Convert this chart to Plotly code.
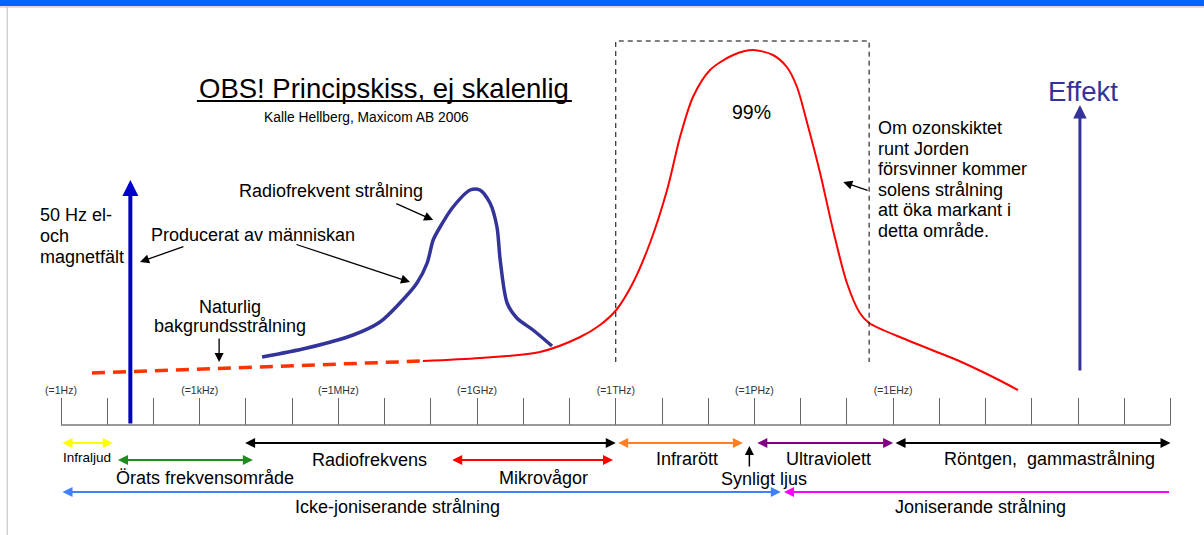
import plotly.graph_objects as go

FONT = "Liberation Sans, Arial, sans-serif"

# ---- axis: log10(frequency / Hz) decades ----
decades = list(range(25))
decade_labels = {0: "(=1Hz)", 3: "(=1kHz)", 6: "(=1MHz)", 9: "(=1GHz)",
                 12: "(=1THz)", 15: "(=1PHz)", 18: "(=1EHz)"}
tick_text = [decade_labels.get(d, "") for d in decades]

# ---- curves (x = log10 Hz, y = relative power, sketch units) ----
natural_x = [0.67, 3.0, 5.2, 7.83]
natural_y = [52, 56, 59, 64]

solar_x = [7.83, 9.06, 10.36, 11.23, 11.66, 12.01, 12.37, 12.74, 13.11, 13.39, 13.67,
           14.04, 14.54, 14.97, 15.40, 15.70, 15.92, 16.14, 16.42, 16.70, 17.00,
           17.28, 17.48, 18.30, 19.38, 20.16, 20.70]
solar_y = [64, 67, 73, 88, 100, 115, 142, 182, 235, 288, 328,
           355, 370, 375, 370, 358, 338, 302, 252, 195, 142,
           112, 102, 85, 65, 48, 35]

rf_x = [4.35, 5.32, 6.32, 6.90, 7.33, 7.70, 7.92, 8.05, 8.20, 8.48, 8.85, 9.06,
        9.28, 9.43, 9.50, 9.65, 9.86, 10.21, 10.62]
rf_y = [68, 77, 90, 103, 122, 142, 162, 185, 198, 218, 235, 235,
        222, 198, 165, 122, 107, 95, 79]

# dashed box around the solar peak
box_x = [12.0, 12.0, 17.48, 17.48]
box_y = [63, 384, 384, 63]

# ---- band arrows: (label, start, end, row, color, both ends) ----
bands = [
    ("Infraljud", 0.0, 1.12, -18, "#FFFF00", True),
    ("Radiofrekvens", 3.95, 12.0, -18, "#000000", True),
    ("Infrarött", 12.02, 14.75, -18, "#FF7F27", True),
    ("Ultraviolett", 15.03, 18.0, -18, "#800080", True),
    ("Röntgen", 18.02, 24.0, -18, "#000000", True),
    ("Örat", 1.2, 4.15, -35, "#1E8C1E", True),
    ("Mikrovågor", 8.43, 11.94, -35, "#FF0000", True),
    ("Icke-joniserande", 0.0, 15.57, -67, "#4080FF", True),
    ("Joniserande", 15.64, 24.0, -67, "#FF00FF", False),
]

band_texts = [
    ("Infraljud", 0.56, -32, 13.5),
    ("Örats frekvensområde", 3.11, -53, 18),
    ("Radiofrekvens", 6.68, -35, 18),
    ("Mikrovågor", 10.43, -53, 18),
    ("Icke-joniserande strålning", 7.27, -82, 18),
    ("Infrarött", 13.54, -34, 18),
    ("Ultraviolett", 16.61, -34, 18),
    ("Röntgen,  gammastrålning", 21.39, -34, 18),
    ("Synligt ljus", 15.21, -54, 18),
    ("Joniserande strålning", 19.90, -82, 18),
]

fig = go.Figure()

fig.add_trace(go.Scatter(x=natural_x, y=natural_y, mode="lines",
                         line=dict(color="#FF3300", width=3.5, dash="13px,8px"),
                         hoverinfo="skip"))
fig.add_trace(go.Scatter(x=solar_x, y=solar_y, mode="lines",
                         line=dict(color="#FF0000", width=2, shape="spline", smoothing=0.8),
                         hoverinfo="skip"))
fig.add_trace(go.Scatter(x=rf_x, y=rf_y, mode="lines",
                         line=dict(color="#333399", width=3.5, shape="spline", smoothing=0.8),
                         hoverinfo="skip"))
fig.add_trace(go.Scatter(x=box_x, y=box_y, mode="lines",
                         line=dict(color="#000000", width=1, dash="5px,4px"),
                         hoverinfo="skip"))

ann = []


def arrow(x0, y0, x1, y1, color, width, size, both=False, head=2):
    a = dict(x=x1, y=y1, ax=x0, ay=y0, xref="x", yref="y", axref="x", ayref="y",
             text="", showarrow=True, arrowcolor=color, arrowwidth=width,
             arrowsize=size, arrowhead=head, standoff=0, startstandoff=0)
    if both:
        a.update(arrowside="end+start", startarrowhead=head, startarrowsize=size)
    ann.append(a)


def label(txt, x, y, size, color="#000000", xanchor="center"):
    ann.append(dict(x=x, y=y, xref="x", yref="y", text=txt, showarrow=False,
                    xanchor=xanchor, yanchor="middle",
                    font=dict(family=FONT, size=size, color=color)))


for name, s, e, row, col, both in bands:
    if both:
        arrow(s, row, e, row, col, 2, 1.0, both=True)
    else:
        arrow(e, row, s, row, col, 2, 1.0)

for txt, x, y, sz in band_texts:
    label(txt, x, y, sz)

# visible light pointer
arrow(14.89, -43, 14.89, -21, "#000000", 1.5, 1.2)

# man-made 50 Hz arrow and power arrow
arrow(1.5, 0, 1.5, 245, "#0000CC", 4, 0.8)
arrow(22.04, 53, 22.04, 320, "#333399", 3, 0.9)

# callout arrows
arrow(2.68, 179, 1.71, 163, "#000000", 1.3, 1.4)
arrow(5.06, 181, 7.55, 143, "#000000", 1.3, 1.4)
arrow(7.22, 222, 8.05, 205, "#000000", 1.3, 1.4)
arrow(3.42, 88, 3.42, 63, "#000000", 1.3, 1.4)
arrow(17.48, 234, 16.92, 243, "#000000", 1.3, 1.4)

label("OBS! Principskiss, ej skalenlig", 6.99, 337, 27.5)
label("Kalle Hellberg, Maxicom AB 2006", 6.60, 308, 13.8)
label("Effekt", 22.11, 334, 27.5, "#333399")
label("Producerat av människan", 4.15, 190, 18)
label("Radiofrekvent strålning", 5.84, 234, 18)
label("99%", 14.93, 313, 19.5)

natural_lines = ["Naturlig", "bakgrundsstrålning"]
for i, t in enumerate(natural_lines):
    label(t, 3.66, 118 - 19 * i, 18)

hz_lines = ["50 Hz el-", "och", "magnetfält"]
for i, t in enumerate(hz_lines):
    label(t, -0.50, 210 - 21 * i, 18, xanchor="left")

ozone_lines = ["Om ozonskiktet", "runt Jorden", "försvinner kommer", "solens strålning",
               "att öka markant i", "detta område."]
for i, t in enumerate(ozone_lines):
    label(t, 17.63, 297 - 20.5 * i, 18, xanchor="left")

shapes = [
    # baseline of the frequency axis
    dict(type="line", xref="x", yref="y", x0=decades[0], x1=decades[-1], y0=0, y1=0,
         line=dict(color="#777777", width=1.5)),
    # title underline
    dict(type="line", xref="x", yref="y", x0=2.94, x1=11.05, y0=324, y1=324,
         line=dict(color="#000000", width=2)),
    # window frame
    dict(type="rect", xref="paper", yref="paper", x0=0, x1=1, y0=0.989, y1=1.0,
         fillcolor="#0066FF", line=dict(width=0)),
    dict(type="line", xref="paper", yref="paper", x0=0, x1=1, y0=0.987, y1=0.987,
         line=dict(color="#BBBBBB", width=1)),
    dict(type="line", xref="paper", yref="paper", x0=0.006, x1=0.006, y0=0, y1=0.987,
         line=dict(color="#BBBBBB", width=1)),
]

fig.update_layout(
    width=1204, height=535,
    margin=dict(l=0, r=0, t=0, b=0),
    paper_bgcolor="white", plot_bgcolor="white",
    showlegend=False, hovermode=False,
    annotations=ann, shapes=shapes,
    xaxis=dict(range=[-1.3195, 24.724], side="top", anchor="free",
               position=(535 - 425) / 535,
               tickvals=decades, ticktext=tick_text,
               ticks="outside", ticklen=27, tickcolor="#666666", tickwidth=1,
               tickfont=dict(family=FONT, size=10.5, color="#333333"),
               showgrid=False, zeroline=False, showline=False, fixedrange=True),
    yaxis=dict(range=[-110, 425], visible=False, fixedrange=True),
)

fig.write_html("out.html", config={"displayModeBar": False},
               post_script="document.body.style.margin='0';document.body.style.overflow='hidden';")
